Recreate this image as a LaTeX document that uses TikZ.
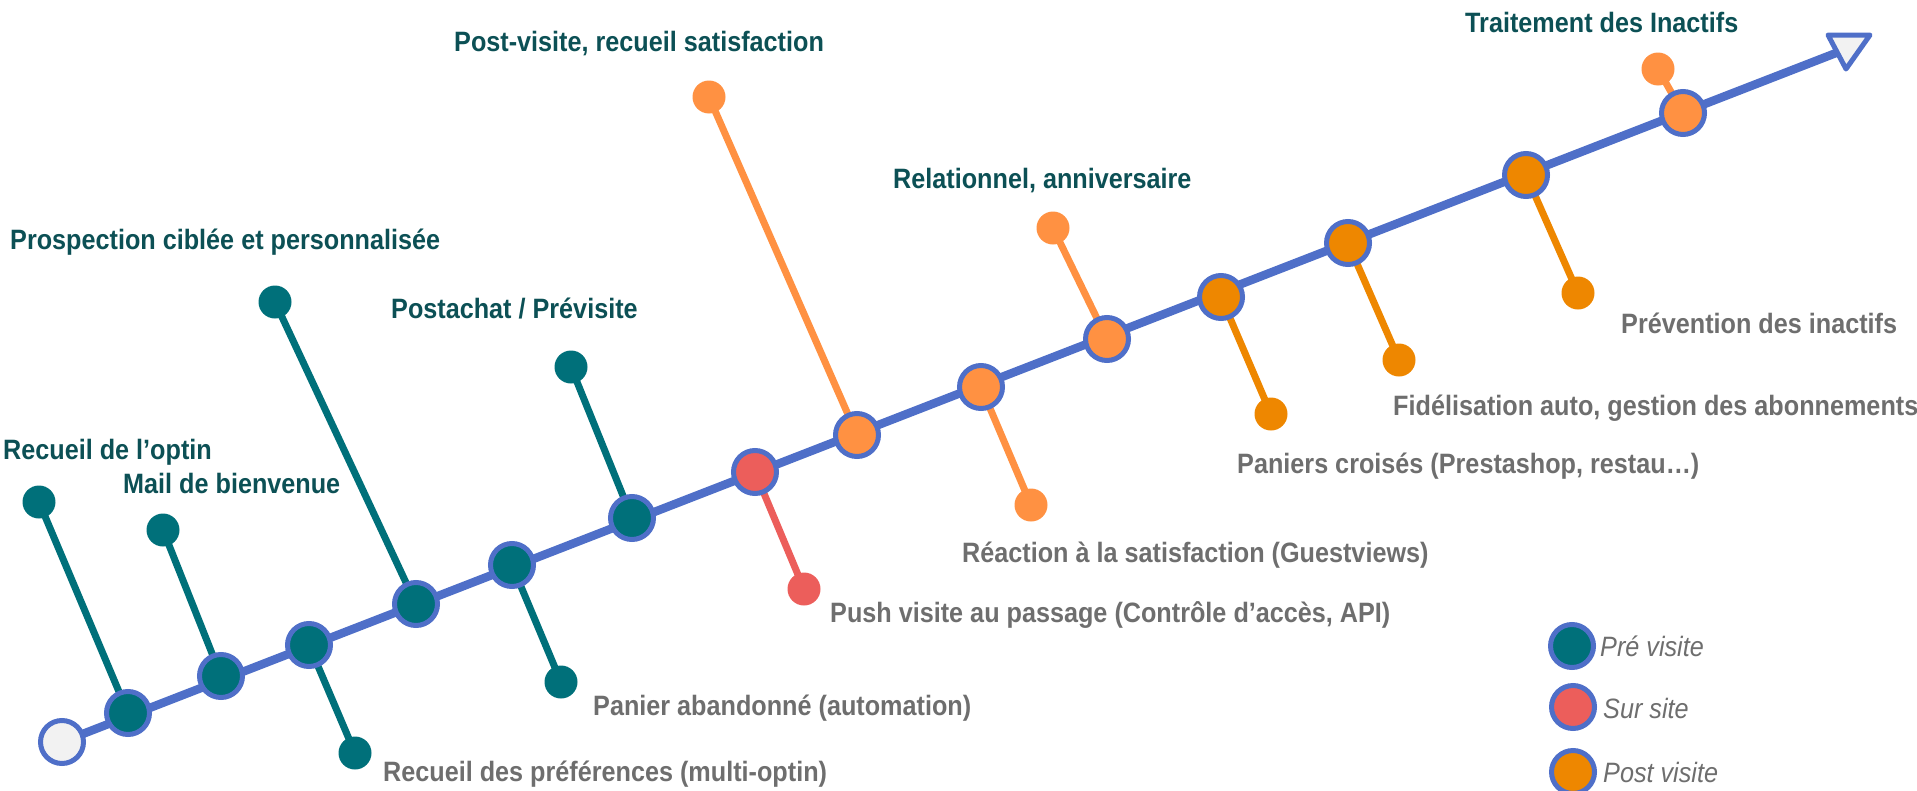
\documentclass[tikz,border=0pt]{standalone}
\usepackage{fontspec}
\setmainfont{Liberation Sans}[FakeStretch=0.9]
\usetikzlibrary{backgrounds}

\definecolor{axisblue}{HTML}{4F6FC8}
\definecolor{preteal}{HTML}{00707A}
\definecolor{onsite}{HTML}{EC5E5B}
\definecolor{postlight}{HTML}{FF9142}
\definecolor{postdark}{HTML}{EE8700}
\definecolor{startfill}{HTML}{F2F2F2}
\definecolor{headtext}{HTML}{0C5055}
\definecolor{subtext}{HTML}{6E6E6E}

\begin{document}
\begin{tikzpicture}[x=1pt,y=-1pt,
  milestone/.style={circle,draw=axisblue,line width=5pt,minimum size=43pt,inner sep=0pt,fill=#1},
  tipdot/.style={circle,inner sep=0pt,minimum size=33pt,fill=#1},
  stub/.style={line width=7pt,draw=#1},
  headlabel/.style={anchor=base west,inner sep=0pt,text=headtext,font=\bfseries\fontsize{28}{31}\selectfont},
  sublabel/.style={anchor=base west,inner sep=0pt,text=subtext,font=\bfseries\fontsize{28}{31}\selectfont},
  keylabel/.style={anchor=base west,inner sep=0pt,text=subtext,font=\itshape\fontsize{28}{31}\selectfont}
]
\useasboundingbox (0,0) rectangle (1917,790);

% milestones along the timeline
\node[milestone=startfill] (start) at (62,742) {};
\node[milestone=preteal] (n1) at (128,713) {};
\node[milestone=preteal] (n2) at (221,676) {};
\node[milestone=preteal] (n3) at (309,645) {};
\node[milestone=preteal] (n4) at (416,604) {};
\node[milestone=preteal] (n5) at (512,565) {};
\node[milestone=preteal] (n6) at (632,518) {};
\node[milestone=onsite] (r1) at (755,472) {};
\node[milestone=postlight] (o1) at (857,435) {};
\node[milestone=postlight] (o2) at (981,387) {};
\node[milestone=postlight] (o3) at (1107,339) {};
\node[milestone=postdark] (o4) at (1221,297) {};
\node[milestone=postdark] (o5) at (1348,243) {};
\node[milestone=postdark] (o6) at (1526,175) {};
\node[milestone=postlight] (o7) at (1683,113) {};
\coordinate (headbase) at (1836,53);

% end dots of the branches
\node[tipdot=preteal] (s1) at (39,502) {};
\node[tipdot=preteal] (s2) at (163,530) {};
\node[tipdot=preteal] (s3) at (355,753) {};
\node[tipdot=preteal] (s4) at (275,302) {};
\node[tipdot=preteal] (s5) at (561,682) {};
\node[tipdot=preteal] (s6) at (571,367) {};
\node[tipdot=onsite] (sr) at (804,589) {};
\node[tipdot=postlight] (t1) at (709,97) {};
\node[tipdot=postlight] (t2) at (1031,505) {};
\node[tipdot=postlight] (t3) at (1053,228) {};
\node[tipdot=postdark] (t4) at (1271,414) {};
\node[tipdot=postdark] (t5) at (1399,360) {};
\node[tipdot=postdark] (t6) at (1578,293) {};
\node[tipdot=postlight] (t7) at (1658,69) {};

\begin{pgfonlayer}{background}
  \draw[axisblue,line width=8.5pt] (start.center) -- (headbase);
  \draw[stub=preteal] (s1.center) -- (n1.center);
  \draw[stub=preteal] (s2.center) -- (n2.center);
  \draw[stub=preteal] (s3.center) -- (n3.center);
  \draw[stub=preteal] (s4.center) -- (n4.center);
  \draw[stub=preteal] (s5.center) -- (n5.center);
  \draw[stub=preteal] (s6.center) -- (n6.center);
  \draw[stub=onsite] (sr.center) -- (r1.center);
  \draw[stub=postlight] (t1.center) -- (o1.center);
  \draw[stub=postlight] (t2.center) -- (o2.center);
  \draw[stub=postlight] (t3.center) -- (o3.center);
  \draw[stub=postdark] (t4.center) -- (o4.center);
  \draw[stub=postdark] (t5.center) -- (o5.center);
  \draw[stub=postdark] (t6.center) -- (o6.center);
  \draw[stub=postlight] (t7.center) -- (o7.center);
\end{pgfonlayer}

% open arrowhead at the end of the timeline
\draw[axisblue,fill=startfill,line width=5pt,line join=round]
  (1828,35) -- (1870,35) -- (1846,69) -- cycle;

% labels above the line
\node[headlabel] (l1) at (3,459) {Recueil de l’optin};
\node[headlabel] (l2) at (123,493) {Mail de bienvenue};
\node[headlabel] (l3) at (10,249) {Prospection ciblée et personnalisée};
\node[headlabel] (l4) at (391,318) {Postachat / Prévisite};
\node[headlabel] (l5) at (454,51) {Post-visite, recueil satisfaction};
\node[headlabel] (l6) at (893,188) {Relationnel, anniversaire};
\node[headlabel] (l7) at (1465,32) {Traitement des Inactifs};

% labels below the line
\node[sublabel] (m1) at (383,781) {Recueil des préférences (multi-optin)};
\node[sublabel] (m2) at (593,715) {Panier abandonné (automation)};
\node[sublabel] (m3) at (830,622) {Push visite au passage (Contrôle d’accès, API)};
\node[sublabel] (m4) at (962,562) {Réaction à la satisfaction (Guestviews)};
\node[sublabel] (m5) at (1237,473) {Paniers croisés (Prestashop, restau…)};
\node[sublabel] (m6) at (1393,415) {Fidélisation auto, gestion des abonnements};
\node[sublabel] (m7) at (1621,333) {Prévention des inactifs};

% legend
\node[milestone=preteal] (k1) at (1572,646) {};
\node[milestone=onsite] (k2) at (1573,707) {};
\node[milestone=postdark] (k3) at (1573,772) {};
\node[keylabel] (kl1) at (1600,656) {Pré visite};
\node[keylabel] (kl2) at (1603,718) {Sur site};
\node[keylabel] (kl3) at (1603,782) {Post visite};
\end{tikzpicture}
\end{document}
